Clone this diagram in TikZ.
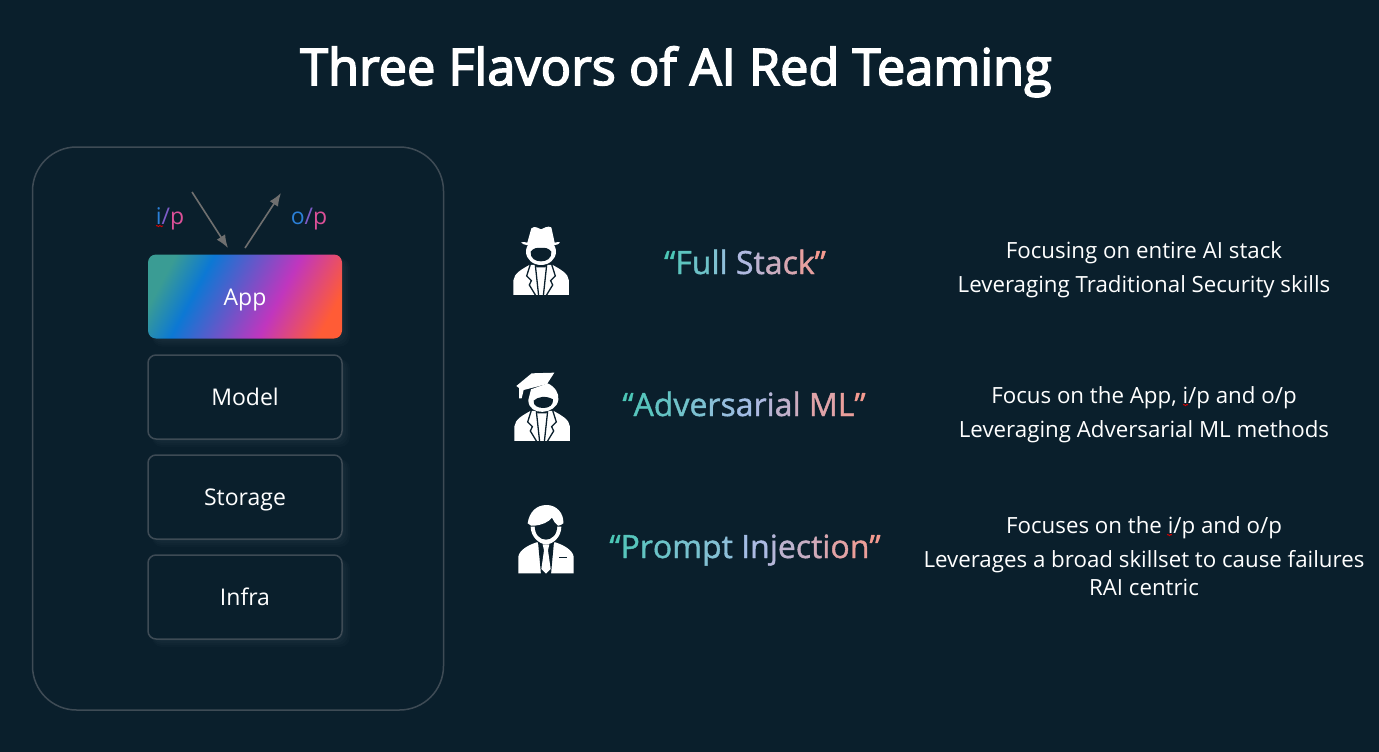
\documentclass[tikz,border=0pt]{standalone}
\usepackage{fontspec}
\setmainfont{Open Sans}
\newfontface\titleface{Open Sans}[FakeBold=3]
\newfontface\flavorface{Open Sans}[FakeBold=1.2]
\usetikzlibrary{arrows.meta, decorations.pathmorphing}

\definecolor{bgdark}{HTML}{0A1F2C}
\definecolor{frameline}{HTML}{3E4B55}
\definecolor{arrowgrey}{HTML}{6F6F6F}
\definecolor{gradstart}{HTML}{4CC6B6}
\definecolor{gradmid}{HTML}{A8BCE8}
\definecolor{gradend}{HTML}{F49A90}
\definecolor{ipblue}{HTML}{2B80D8}
\definecolor{ippurple}{HTML}{7E5CC8}
\definecolor{ippink}{HTML}{DC5098}
\definecolor{appteal}{HTML}{3A9C94}
\definecolor{appblue}{HTML}{0C78D4}
\definecolor{appmagenta}{HTML}{C036BE}
\definecolor{apporange}{HTML}{FF5C36}

\pgfdeclarehorizontalshading{appgrad}{100bp}{
  color(0bp)=(appteal);
  color(24bp)=(appteal);
  color(35bp)=(appblue);
  color(60bp)=(appmagenta);
  color(77bp)=(apporange);
  color(100bp)=(apporange)}

\newcommand{\gradlabel}[2]{%
  \foreach \ch [count=\n] in {#2}{%
    \pgfmathsetmacro{\gradpos}{200*(\n-1)/(#1-1)}%
    \ifdim\gradpos pt<100pt
      \colorlet{gradnow}{gradmid!\gradpos!gradstart}%
    \else
      \pgfmathsetmacro{\gradrest}{\gradpos-100}%
      \colorlet{gradnow}{gradend!\gradrest!gradmid}%
    \fi
    \textcolor{gradnow}{\ch}}}

% torso with lapels, zoomed units, centre at x=153
\newcommand{\agentbody}{
\fill[white] (70,255) -- (70,212) .. controls (72,190) and (95,178) .. (118,165)
  -- (188,165) .. controls (211,178) and (235,190) .. (237,212) -- (237,255) -- cycle;
\fill[bgdark] (130,158) -- (176,158) -- (166,172) -- (140,172) -- cycle;
\draw[bgdark, line width=1.3pt] (122,160) -- (110,198) -- (124,212) -- (118,225) -- (138,258);
\draw[bgdark, line width=1.3pt] (184,160) -- (196,198) -- (182,212) -- (188,225) -- (168,258);
\draw[bgdark, line width=1.3pt] (136,165) -- (146,258);
\draw[bgdark, line width=1.3pt] (170,165) -- (160,258);
}

\tikzset{
  stackbox/.style={draw=frameline, fill=bgdark, line width=1.5pt, rounded corners=8pt, minimum width=194pt,
    minimum height=84pt, text=white, font=\fontsize{23}{28}\selectfont, inner sep=0pt,
    text height=17pt, text depth=0pt},
  desctext/.style={text=white, font=\fontsize{22.3}{26}\selectfont, anchor=base, inner sep=0pt},
  flavortext/.style={font=\flavorface\fontsize{32}{38}\selectfont, anchor=base, inner sep=0pt},
  iotext/.style={font=\fontsize{23}{28}\selectfont, anchor=base, inner sep=0pt},
  flowarrow/.style={arrowgrey, line width=1.6pt, -{Latex[length=13pt, width=10pt]}},
  boxglow/.style={fill=white, opacity=.014, rounded corners=10pt},
  spellmark/.style={draw=red!85!black, line width=.8pt, decorate,
    decoration={snake, amplitude=.7pt, segment length=3pt}}
}

\begin{document}
\begin{tikzpicture}[x=1pt,y=-1pt]
\useasboundingbox (0,0) rectangle (1379,752);
\fill[bgdark] (0,0) rectangle (1379,752);

\node[text=white, inner sep=0pt, anchor=base, font=\titleface\fontsize{50.5}{60}\selectfont] (title) at (676,85) {Three Flavors of AI Red Teaming};

\node[draw=frameline, line width=1.5pt, rounded corners=44pt, minimum width=411pt, minimum height=563pt] (stack) at (238,428.5) {};

% soft glow under the boxes
\foreach \cy in {296.5,397,497,597}
  \foreach \g in {2,4,6,8}
    \fill[boxglow] (152,\cy-38) rectangle (342+\g,\cy+42+\g);

\node[stackbox, draw=none, shading=appgrad, shading angle=-28] (app) at (245,296.5) {App};
\node[stackbox] (model) at (245,397) {Model};
\node[stackbox] (storage) at (245,497) {Storage};
\node[stackbox] (infra) at (245,597) {Infra};

\coordinate (ipstart) at (192,192);
\coordinate (ipend) at (228,248);
\coordinate (opstart) at (245,248);
\coordinate (opend) at (281,193);
\draw[flowarrow] (ipstart) -- (ipend);
\draw[flowarrow] (opstart) -- (opend);

\node[iotext] (ip) at (170,224) {\textcolor{ipblue}{i}\textcolor{ippurple}{/}\textcolor{ippink}{p}};
\node[iotext] (op) at (309,224) {\textcolor{ipblue}{o}\textcolor{ippurple}{/}\textcolor{ippink}{p}};
\coordinate (ipmarkl) at (156,226);
\coordinate (ipmarkr) at (163,226);
\draw[spellmark] (ipmarkl) -- (ipmarkr);

% flavor names
\node[flavortext] (fullstack) at (745,274) {\gradlabel{12}{“,F,u,l,l,~,S,t,a,c,k,”}};
\node[flavortext] (advml) at (744,416) {\gradlabel{16}{“,A,d,v,e,r,s,a,r,i,a,l,~,M,L,”}};
\node[flavortext] (prompt) at (745,558) {\gradlabel{18}{“,P,r,o,m,p,t,~,I,n,j,e,c,t,i,o,n,”}};

% descriptions
\node[desctext] (fs1) at (1144,258) {Focusing on entire AI stack};
\node[desctext] (fs2) at (1144,292) {Leveraging Traditional Security skills};
\node[desctext] (am1) at (1144,403) {Focus on the App, i/p and o/p};
\node[desctext] (am2) at (1144,437) {Leveraging Adversarial ML methods};
\node[desctext] (pi1) at (1144,533) {Focuses on the i/p and o/p};
\node[desctext] (pi2) at (1144,567) {Leverages a broad skillset to cause failures};
\node[desctext] (pi3) at (1144,595) {RAI centric};

\coordinate (ammarkl) at (1183,405);
\coordinate (ammarkr) at (1188,405);
\draw[spellmark] (ammarkl) -- (ammarkr);
\coordinate (pimarkl) at (1167,535);
\coordinate (pimarkr) at (1172,535);
\draw[spellmark] (pimarkl) -- (pimarkr);

% hat icon
\begin{scope}[shift={(490,210)}, x=.3333pt, y=-.3333pt]
\agentbody
\fill[white] (153,125) circle[x radius=45, y radius=40];
\fill[bgdark] (122,125) .. controls (130,114) and (142,112) .. (153,114) .. controls (164,112) and (176,114) .. (184,125)
  .. controls (186,145) and (170,154) .. (153,154) .. controls (136,154) and (120,145) .. (122,125) -- cycle;
\fill[white] (112,98) -- (124,55) .. controls (135,46) and (145,55) .. (153,58) .. controls (162,55) and (172,46) .. (184,52) -- (194,98)
  .. controls (200,98) and (205,94) .. (210,97) .. controls (205,106) and (190,108) .. (153,108)
  .. controls (118,108) and (100,106) .. (93,97) .. controls (100,94) and (108,98) .. (112,98) -- cycle;
\end{scope}

% cap icon
\begin{scope}[shift={(491,360)}, x=.3333pt, y=-.3333pt]
\begin{scope}[yshift=4pt]
\agentbody
\end{scope}
\fill[white] (112,120) .. controls (112,170) and (195,165) .. (202,120) .. controls (205,100) and (192,80) .. (170,70) -- (120,88) -- cycle;
\fill[bgdark] (128,122) .. controls (140,110) and (165,106) .. (186,118)
  .. controls (188,134) and (175,144) .. (158,144) .. controls (142,144) and (126,138) .. (128,122) -- cycle;
\fill[white] (76,78) -- (122,40) -- (190,38) -- (168,72) -- (98,90) -- (92,115) -- (84,115) -- (84,84) -- cycle;
\end{scope}

% tie icon
\begin{scope}[shift={(490,495)}, x=.3333pt, y=-.3333pt]
\fill[white] (85,235) -- (85,185) .. controls (88,165) and (115,150) .. (140,142)
  -- (196,142) .. controls (221,150) and (248,165) .. (251,185) -- (251,235) -- cycle;
\fill[bgdark] (144,140) -- (192,140) -- (183,238) -- (153,238) -- cycle;
\fill[white] (158,148) -- (178,148) -- (174,166) -- (182,222) -- (168,236) -- (154,222) -- (162,166) -- cycle;
\fill[bgdark] (206,185) rectangle (230,189.5);
\fill[white] (122,95) .. controls (122,125) and (148,148) .. (168,148) .. controls (190,148) and (214,125) .. (214,95) -- cycle;
\fill[bgdark] (135,90) .. controls (160,88) and (180,80) .. (186,68) .. controls (192,78) and (198,85) .. (201,90)
  .. controls (204,118) and (185,134) .. (168,134) .. controls (150,134) and (132,118) .. (135,90) -- cycle;
\fill[white] (113,85) .. controls (118,50) and (140,30) .. (170,30) .. controls (200,30) and (222,55) .. (220,85)
  .. controls (215,92) and (208,90) .. (204,92) .. controls (196,85) and (190,78) .. (186,68)
  .. controls (175,82) and (155,90) .. (134,92) .. controls (128,95) and (120,92) .. (113,85) -- cycle;
\end{scope}
\end{tikzpicture}
\end{document}
